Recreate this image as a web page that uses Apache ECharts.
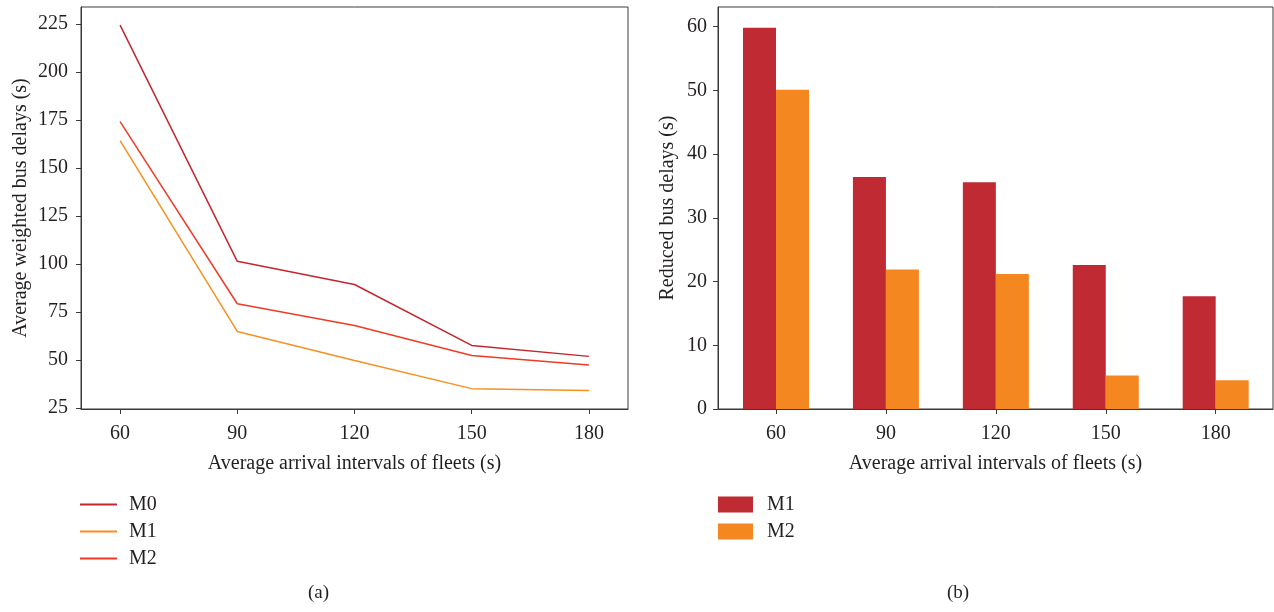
<!DOCTYPE html>
<html>
<head>
<meta charset="utf-8">
<script src="https://cdn.jsdelivr.net/npm/echarts@6/dist/echarts.min.js"></script>
<style>
html,body{margin:0;padding:0;background:#fff;}
#c{width:1274px;height:612px;}
</style>
</head>
<body>
<div id="c"></div>
<script>
// ---- data ----
var intervals = [60, 90, 120, 150, 180];
var leftYTicks = [25, 50, 75, 100, 125, 150, 175, 200, 225];
var rightYTicks = [0, 10, 20, 30, 40, 50, 60];
var delayM0 = [224.5, 101.5, 89.4, 57.7, 52.0];
var delayM1 = [164.3, 65.0, 49.8, 35.2, 34.2];
var delayM2 = [174.2, 79.4, 68.1, 52.5, 47.5];
var reducedM1 = [59.85, 36.4, 35.6, 22.6, 17.7];
var reducedM2 = [50.1, 21.9, 21.2, 5.25, 4.5];

function pairs(xs, ys){ return xs.map(function(x,i){ return [x, ys[i]]; }); }

var FONT = 'Liberation Serif';
var TXT = '#231f20';
var AX = '#3a3a3a';

var chart = echarts.init(document.getElementById('c'), null, {renderer:'canvas'});

function axisCommon(){
  return {
    axisLine:{show:true, onZero:false, lineStyle:{color:AX, width:1}},
    axisTick:{show:true, inside:false, length:5, lineStyle:{color:AX, width:1}},
    splitLine:{show:false},
    axisLabel:{color:TXT, fontFamily:FONT, fontSize:20},
    nameTextStyle:{color:TXT, fontFamily:FONT, fontSize:20}
  };
}

var xL = Object.assign(axisCommon(), {
  type:'value', gridIndex:0, min:50, max:190,
  name:'Average arrival intervals of fleets (s)', nameLocation:'middle', nameGap:45
});
xL.axisLabel = Object.assign({}, xL.axisLabel, {margin:15, customValues:intervals});
xL.axisTick = Object.assign({}, xL.axisTick, {customValues:intervals});

var yL = Object.assign(axisCommon(), {
  type:'value', gridIndex:0, min:24.6, max:233.9,
  name:'Average weighted bus delays (s)', nameLocation:'middle', nameGap:50, nameRotate:90
});
yL.axisLabel = Object.assign({}, yL.axisLabel, {margin:13, customValues:leftYTicks});
yL.axisTick = Object.assign({}, yL.axisTick, {customValues:leftYTicks});

var xR = Object.assign(axisCommon(), {
  type:'value', gridIndex:1, min:44.17, max:195.64,
  name:'Average arrival intervals of fleets (s)', nameLocation:'middle', nameGap:45
});
xR.axisLabel = Object.assign({}, xR.axisLabel, {margin:15, customValues:intervals});
xR.axisTick = Object.assign({}, xR.axisTick, {customValues:intervals});

var yR = Object.assign(axisCommon(), {
  type:'value', gridIndex:1, min:0, max:63.1,
  name:'Reduced bus delays (s)', nameLocation:'middle', nameGap:40, nameRotate:90
});
yR.axisLabel = Object.assign({}, yR.axisLabel, {margin:11, customValues:rightYTicks});
yR.axisTick = Object.assign({}, yR.axisTick, {customValues:rightYTicks});

var option = {
  animation:false,
  backgroundColor:'#fff',
  textStyle:{fontFamily:FONT},
  title:[
    {text:'(a)', left:303, top:579, textStyle:{fontFamily:FONT, fontSize:19, fontWeight:'normal', color:TXT}},
    {text:'(b)', left:942, top:579, textStyle:{fontFamily:FONT, fontSize:19, fontWeight:'normal', color:TXT}}
  ],
  grid:[
    {left:81, top:7, width:547, height:402, show:true, borderColor:AX, borderWidth:1, backgroundColor:'transparent'},
    {left:718, top:7, width:555, height:402, show:true, borderColor:AX, borderWidth:1, backgroundColor:'transparent'}
  ],
  xAxis:[xL, xR],
  yAxis:[yL, yR],
  legend:[
    {data:['M0','M1','M2'], orient:'vertical', left:80, top:494, padding:0, icon:'rect', itemWidth:37, itemHeight:2,
     itemGap:6, textStyle:{fontFamily:FONT, fontSize:20, color:TXT, lineHeight:21, padding:[0,0,0,7]}},
    {data:['M1 ','M2 '], orient:'vertical', left:718, top:494, padding:0, icon:'rect', itemWidth:35, itemHeight:16,
     itemGap:6, textStyle:{fontFamily:FONT, fontSize:20, color:TXT, lineHeight:21, padding:[0,0,0,9]}}
  ],
  series:[
    {name:'M0', type:'line', xAxisIndex:0, yAxisIndex:0, data:pairs(intervals, delayM0), symbol:'none',
     lineStyle:{color:'#c1272d', width:1.5}, itemStyle:{color:'#c1272d'}},
    {name:'M1', type:'line', xAxisIndex:0, yAxisIndex:0, data:pairs(intervals, delayM1), symbol:'none',
     lineStyle:{color:'#f7901e', width:1.5}, itemStyle:{color:'#f7901e'}},
    {name:'M2', type:'line', xAxisIndex:0, yAxisIndex:0, data:pairs(intervals, delayM2), symbol:'none',
     lineStyle:{color:'#ef3b24', width:1.5}, itemStyle:{color:'#ef3b24'}},
    {name:'M1 ', type:'bar', xAxisIndex:1, yAxisIndex:1, data:pairs(intervals, reducedM1), barWidth:33, barGap:'0%',
     itemStyle:{color:'#c02a32'}},
    {name:'M2 ', type:'bar', xAxisIndex:1, yAxisIndex:1, data:pairs(intervals, reducedM2), barWidth:33, barGap:'0%',
     itemStyle:{color:'#f48720'}}
  ]
};
chart.setOption(option);
</script>
</body>
</html>
